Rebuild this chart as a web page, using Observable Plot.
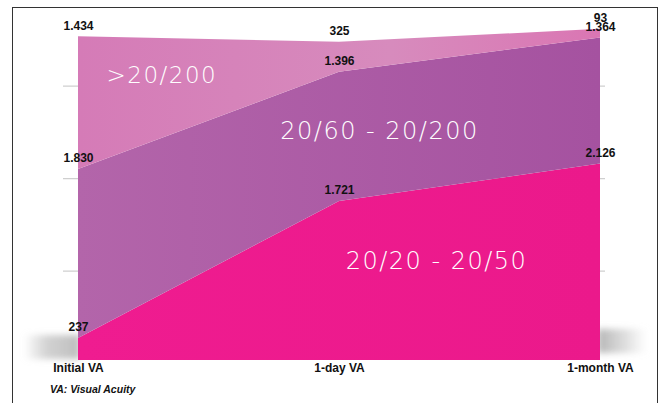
<!DOCTYPE html>
<html>
<head>
<meta charset="utf-8">
<script src="https://cdn.jsdelivr.net/npm/d3@7"></script>
<script src="https://cdn.jsdelivr.net/npm/@observablehq/plot@0.6"></script>
<style>
  html, body { margin: 0; padding: 0; background: #fff; overflow: hidden; }
  #wrap { position: relative; width: 663px; height: 403px; }
  #frame { position: absolute; left: 12px; top: 7px; width: 644px; height: 400px;
           border-left: 1.5px solid #333; border-top: 1.5px solid #333; border-right: 1.5px solid #333; pointer-events: none; }
  #caption { position: absolute; left: 50px; top: 382px; font: italic bold 10.5px "Liberation Sans", Arial, sans-serif; color: #111; line-height: 14px; }
  svg { display: block; }
</style>
</head>
<body>
<div id="wrap">
  <div id="chart"></div>
  <div id="caption">VA: Visual Acuity</div>
  <div id="frame"></div>
</div>
<script>
// ---- data ----
const periods = ["Initial VA", "1-day VA", "1-month VA"];
const groups = ["20/20 - 20/50", "20/60 - 20/200", ">20/200"];
const goodVA = [237, 1721, 2126];       // 20/20 - 20/50
const moderateVA = [1830, 1396, 1364];  // 20/60 - 20/200
const poorVA = [1434, 325, 93];         // >20/200
const gridValues = [1000, 2000, 3000];

const seriesValues = [goodVA, moderateVA, poorVA];
const table = [];
groups.forEach((g, gi) => periods.forEach((p, pi) => table.push({group: g, period: p, value: seriesValues[gi][pi]})));

const locale = d3.formatLocale({decimal: ",", thousands: ".", grouping: [3], currency: ["", ""]});
const fmt = locale.format(",d");

const chart = Plot.plot({
  width: 663,
  height: 378,
  marginLeft: 63,
  marginRight: 58,
  marginTop: 0,
  marginBottom: 18,
  style: {fontFamily: "'Liberation Sans', Arial, sans-serif", fontSize: "12px", fontWeight: "bold", color: "#111", background: "transparent"},
  x: {type: "point", domain: periods, range: [77, 600], padding: 0, label: null, tickSize: 0, tickPadding: 3},
  y: {domain: [0, 3505], range: [360, 36], axis: null},
  color: {domain: groups, range: ["url(#gBottom)", "url(#gMiddle)", "url(#gTop)"]},
  marks: [
    Plot.ruleY(gridValues, {stroke: "#cfcfcf", strokeWidth: 1.2, dy: 3}),
    Plot.areaY(table, {x: "period", y: "value", z: "group", fill: "group", order: groups}),
    Plot.text(table, Plot.stackY2({x: "period", y: "value", z: "group", order: groups,
      text: d => fmt(d.value), dy: -11, fill: "#111", fontSize: 12, fontWeight: "bold"})),
    Plot.text([">20/200"], {x: () => "Initial VA", y: () => 3081, dx: 28, textAnchor: "start",
      fill: "white", fontSize: 23, fontWeight: 200, fontFamily: "DejaVu Sans", text: d => d}),
    Plot.text(["20/60 - 20/200"], {x: () => "1-day VA", y: () => 2476, dx: 40, textAnchor: "middle",
      fill: "white", fontSize: 24, fontWeight: 200, fontFamily: "DejaVu Sans", text: d => d}),
    Plot.text(["20/20 - 20/50"], {x: () => "1-day VA", y: () => 1070, dx: 97, textAnchor: "middle",
      fill: "white", fontSize: 24, fontWeight: 200, fontFamily: "DejaVu Sans", text: d => d})
  ]
});

document.getElementById("chart").appendChild(chart);

// gradients and shadows
const svg = d3.select(chart);
const defs = svg.insert("defs", ":first-child");
function lg(id, stops, x2 = "100%", y2 = "0%") {
  const g = defs.append("linearGradient").attr("id", id).attr("x1", "0%").attr("y1", "0%").attr("x2", x2).attr("y2", y2);
  stops.forEach(([o, c, op]) => g.append("stop").attr("offset", o).attr("stop-color", c).attr("stop-opacity", op == null ? 1 : op));
}
lg("gTop", [["0%", "#d57bb7"], ["60%", "#d78bbd"], ["100%", "#da76b3"]]);
lg("gMiddle", [["0%", "#b365aa"], ["100%", "#a552a0"]]);
lg("gBottom", [["0%", "#ef1c90"], ["100%", "#eb198b"]]);
lg("shL", [["0%", "#c4c4c4", 0], ["40%", "#c4c4c4", 0.75], ["100%", "#bdbdbd", 1]]);
lg("shR", [["0%", "#b4b4b4", 1], ["55%", "#c8c8c8", 0.6], ["100%", "#d8d8d8", 0]]);
const f = defs.append("filter").attr("id", "blur").attr("x", "-30%").attr("y", "-50%").attr("width", "160%").attr("height", "200%");
f.append("feGaussianBlur").attr("stdDeviation", 3);

const sx = chart.scale("x"), sy = chart.scale("y");
const X = v => sx.apply ? sx.apply(v) : sx.range[0] + (sx.range[1] - sx.range[0]) * periods.indexOf(v) / (periods.length - 1);
const Y = v => sy.apply ? sy.apply(v) : sy.range[0] + (sy.range[1] - sy.range[0]) * (v - sy.domain[0]) / (sy.domain[1] - sy.domain[0]);
const x0 = X(periods[0]), x2 = X(periods[periods.length - 1]), y0 = Y(0);
const sh = svg.insert("g", "defs + *").attr("filter", "url(#blur)");
sh.append("rect").attr("x", x0 - 54).attr("y", y0 - 25).attr("width", 56).attr("height", 24).attr("fill", "url(#shL)");
sh.append("rect").attr("x", x2 - 2).attr("y", y0 - 31).attr("width", 50).attr("height", 24).attr("fill", "url(#shR)");

// letter spacing for series labels
svg.selectAll("text").filter(function() { return this.getAttribute("fill") === "white" || (this.parentNode && this.parentNode.getAttribute && this.parentNode.getAttribute("fill") === "white"); })
  .style("letter-spacing", "1.5px");
</script>
</body>
</html>
